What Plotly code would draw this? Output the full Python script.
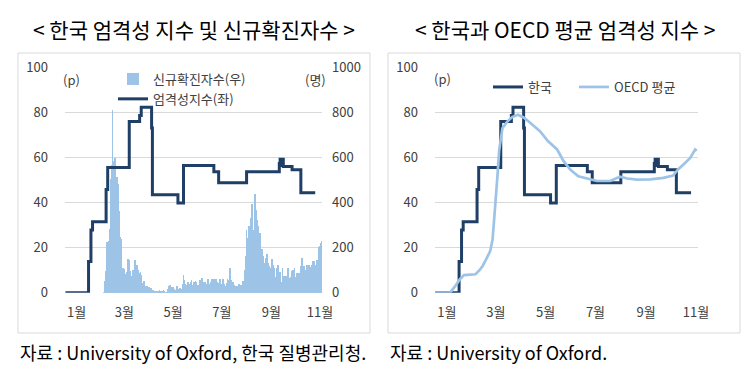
import pandas as pd
import plotly.graph_objects as go

# ---------------- data ----------------
# Korea stringency index (Oxford), step changes: date -> value from that date on
kr_dates = ["2020-01-01", "2020-01-30", "2020-02-02", "2020-02-04", "2020-02-21", "2020-02-23",
            "2020-03-21", "2020-04-03", "2020-04-05", "2020-04-18", "2020-04-19", "2020-05-21",
            "2020-05-28", "2020-07-05", "2020-07-11", "2020-08-15", "2020-09-25", "2020-09-26",
            "2020-09-27", "2020-09-29", "2020-09-30", "2020-10-11", "2020-10-22", "2020-11-09"]
kr_values = [0, 13.9, 27.8, 31.5, 45.8, 55.6,
             76.0, 78.7, 82.4, 73.1, 43.5, 39.8,
             56.5, 53.7, 48.8, 53.7, 57.4, 59.3,
             56.5, 59.3, 56.0, 54.6, 44.4, 44.4]

# OECD average stringency index
oecd_dates = ["2020-01-01", "2020-01-19", "2020-01-25", "2020-01-31", "2020-02-05", "2020-02-19",
              "2020-02-24", "2020-02-28", "2020-03-04", "2020-03-08", "2020-03-11", "2020-03-13",
              "2020-03-15", "2020-03-17", "2020-03-19", "2020-03-23", "2020-03-29", "2020-04-04",
              "2020-04-11", "2020-04-18", "2020-04-26", "2020-05-08", "2020-05-18", "2020-05-29",
              "2020-06-06", "2020-06-14", "2020-06-24", "2020-07-05", "2020-07-17", "2020-08-02",
              "2020-08-14", "2020-08-23", "2020-09-04", "2020-09-20", "2020-10-06", "2020-10-18",
              "2020-10-24", "2020-10-31", "2020-11-08", "2020-11-14", "2020-11-16"]
oecd_values = [0, 0, 2.8, 6.0, 7.8, 8.2,
               10.0, 12.0, 15.5, 18.4, 23.6, 32.0,
               42.0, 52.0, 63.0, 73.0, 76.0, 78.0,
               79.0, 77.8, 75.5, 71.7, 67.2, 63.6,
               58.4, 54.7, 51.7, 50.6, 49.6, 49.6,
               51.5, 50.7, 50.2, 50.3, 51.0, 52.0,
               54.7, 57.0, 59.8, 63.6, 63.0]

# Korea daily new confirmed cases, from 2020-02-18
cases_start = "2020-02-18"
cases_values = [
    1, 20, 53, 100, 229, 169, 231, 144, 284, 505, 571, 813,                      # Feb 18-29
    586, 476, 600, 516, 438, 518, 483, 367, 248, 131, 242, 114, 110, 107, 76, 74,
    84, 93, 152, 87, 147, 98, 64, 76, 100, 104, 91, 146, 105, 78, 125,          # Mar
    101, 89, 86, 94, 81, 47, 47, 53, 39, 27, 30, 32, 25, 27, 27, 22, 22, 18, 8,
    13, 9, 11, 8, 6, 10, 10, 10, 14, 9, 4,                                       # Apr
    9, 6, 13, 8, 3, 2, 4, 12, 18, 34, 35, 27, 26, 29, 27, 19, 13, 15, 13, 32,
    12, 20, 23, 25, 16, 19, 40, 79, 58, 39, 27,                                  # May
    35, 38, 49, 39, 39, 51, 57, 38, 38, 50, 45, 56, 49, 34, 37, 34, 43, 59, 49,
    67, 48, 17, 46, 51, 28, 39, 51, 62, 42, 43,                                  # Jun
    51, 54, 63, 63, 61, 48, 44, 63, 50, 45, 35, 44, 62, 33, 39, 61, 60, 39, 34,
    26, 45, 63, 59, 41, 113, 58, 25, 28, 48, 18, 36,                             # Jul
    31, 30, 23, 34, 33, 43, 20, 36, 28, 34, 54, 56, 103, 166, 279, 197, 246, 297,
    288, 324, 332, 397, 266, 280, 320, 441, 371, 323, 299, 248, 235,             # Aug
    267, 195, 198, 168, 167, 119, 136, 156, 155, 176, 136, 121, 109, 106, 113,
    153, 126, 110, 82, 70, 61, 110, 125, 114, 61, 95, 50, 38, 113, 77,           # Sep
    63, 75, 64, 73, 75, 114, 69, 54, 72, 58, 98, 102, 84, 110, 47, 73, 91, 76,
    58, 91, 58, 121, 155, 77, 61, 119, 88, 103, 125, 114, 127,                   # Oct
    124, 97, 75, 118, 125, 145, 89, 143, 126, 100, 146, 143, 191, 205, 208, 223, 230  # Nov
]
cases_dates = pd.date_range(cases_start, periods=len(cases_values), freq="D")

tick_dates = ["2020-01-15", "2020-03-15", "2020-05-15", "2020-07-15", "2020-09-15", "2020-11-15"]
tick_labels = ["1월", "3월", "5월", "7월", "9월", "11월"]
left_ticks = [0, 20, 40, 60, 80, 100]
right_ticks = [0, 200, 400, 600, 800, 1000]

# ---------------- style ----------------
W, H = 750, 370
FONT = "Noto Sans CJK KR"
NAVY = "#1F3F66"
LIGHT = "#9DC3E6"
GRID = "#D9D9D9"
TXT = "#404040"

def px(x):
    return x / W

def py(y):
    return 1 - y / H

x_range = ["2019-12-31 12:00", "2020-11-17 12:00"]
ydom = [py(292.7), py(67.5)]

fig = go.Figure()

# left panel
fig.add_trace(go.Bar(x=cases_dates, y=cases_values, name="신규확진자수(우)",
                     marker=dict(color=LIGHT, line=dict(width=0)),
                     xaxis="x", yaxis="y", legend="legend", legendgroup="a"))
fig.add_trace(go.Scatter(x=kr_dates, y=kr_values, name="엄격성지수(좌)", mode="lines",
                         line=dict(color=NAVY, width=3, shape="hv"),
                         xaxis="x", yaxis="y2", legend="legend", legendgroup="b"))
# right panel
fig.add_trace(go.Scatter(x=kr_dates, y=kr_values, name="한국", mode="lines",
                         line=dict(color=NAVY, width=3, shape="hv"),
                         xaxis="x2", yaxis="y3", legend="legend2"))
fig.add_trace(go.Scatter(x=oecd_dates, y=oecd_values, name="OECD 평균", mode="lines",
                         line=dict(color=LIGHT, width=2.7),
                         xaxis="x2", yaxis="y3", legend="legend3"))

tickfont = dict(family=FONT, size=13, color=TXT)
xcommon = dict(type="date", range=x_range, tickvals=tick_dates, ticktext=tick_labels,
               showgrid=False, zeroline=False, showline=False, ticks="", automargin=False,
               tickfont=tickfont, ticklabelstandoff=10, fixedrange=True)
legfont = dict(family=FONT, size=13, color=TXT)

fig.update_layout(
    width=W, height=H, autosize=False,
    margin=dict(l=0, r=0, t=0, b=0, pad=0, autoexpand=False),
    paper_bgcolor="white", plot_bgcolor="white",
    bargap=0,
    showlegend=True,
    font=dict(family=FONT, color=TXT),
    xaxis=dict(domain=[px(65), px(322)], anchor="y", **xcommon),
    xaxis2=dict(domain=[px(435), px(698)], anchor="y3", **xcommon),
    yaxis=dict(domain=ydom, anchor="x", side="right", range=[0, 1000], tickvals=right_ticks,
               showgrid=True, gridcolor=GRID, gridwidth=1, zeroline=False, showline=False,
               ticks="", tickfont=tickfont, ticklabelstandoff=9, fixedrange=True, automargin=False),
    yaxis2=dict(overlaying="y", anchor="x", side="left", range=[0, 100], tickvals=left_ticks,
                showgrid=False, zeroline=False, showline=False, ticks="", automargin=False,
                tickfont=tickfont, ticklabelstandoff=16, fixedrange=True),
    yaxis3=dict(domain=ydom, anchor="x2", side="left", range=[0, 100], tickvals=left_ticks,
                showgrid=True, gridcolor=GRID, gridwidth=1, zeroline=False, showline=False,
                ticks="", tickfont=tickfont, ticklabelstandoff=16, fixedrange=True, automargin=False),
    legend=dict(x=px(113), y=py(64), xanchor="left", yanchor="top", orientation="v",
                bgcolor="rgba(0,0,0,0)", font=legfont, tracegroupgap=3, traceorder="normal"),
    legend2=dict(x=px(488), y=py(72), xanchor="left", yanchor="top", orientation="h",
                 bgcolor="rgba(0,0,0,0)", font=legfont),
    legend3=dict(x=px(574), y=py(72), xanchor="left", yanchor="top", orientation="h",
                 bgcolor="rgba(0,0,0,0)", font=legfont),
)

# panel frames
for x0, x1 in [(18, 370), (388, 740)]:
    fig.add_shape(type="rect", xref="paper", yref="paper",
                  x0=px(x0), x1=px(x1), y0=py(333), y1=py(53),
                  line=dict(color=GRID, width=1), fillcolor="rgba(0,0,0,0)", layer="below")

# titles
fig.add_annotation(text="< 한국 엄격성 지수 및 신규확진자수 >", xref="paper", yref="paper",
                   x=px(194), y=py(29), showarrow=False, xanchor="center", yanchor="middle",
                   font=dict(family=FONT, size=21, color="#000000"))
fig.add_annotation(text="< 한국과 OECD 평균 엄격성 지수 >", xref="paper", yref="paper",
                   x=px(565), y=py(29), showarrow=False, xanchor="center", yanchor="middle",
                   font=dict(family=FONT, size=21, color="#000000"))

# units
for txt, x, y in [("(p)", 71, 79), ("(명)", 315, 79), ("(p)", 442, 78)]:
    fig.add_annotation(text=txt, xref="paper", yref="paper", x=px(x), y=py(y),
                       showarrow=False, xanchor="center", yanchor="middle",
                       font=dict(family=FONT, size=13, color=TXT))

# sources
fig.add_annotation(text="자료 : University of Oxford, 한국 질병관리청.", xref="paper", yref="paper",
                   x=px(18), y=py(352), showarrow=False, xanchor="left", yanchor="middle",
                   font=dict(family=FONT, size=18, color="#000000"))
fig.add_annotation(text="자료 : University of Oxford.", xref="paper", yref="paper",
                   x=px(388), y=py(352), showarrow=False, xanchor="left", yanchor="middle",
                   font=dict(family=FONT, size=18, color="#000000"))

fig.write_html("out.html", config={"displayModeBar": False},
               post_script="document.body.style.margin='0px';document.body.style.overflow='hidden';")
